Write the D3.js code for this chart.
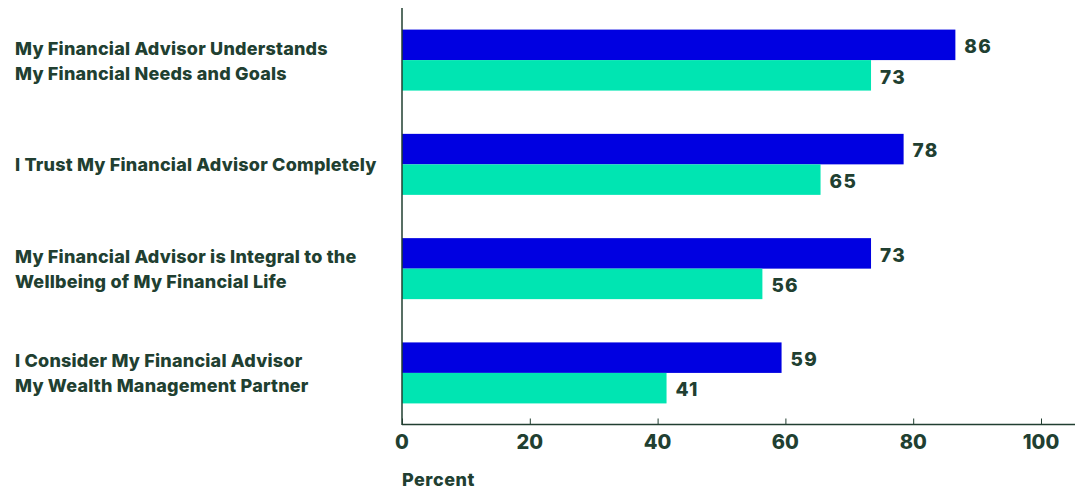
<!DOCTYPE html>
<html><head><meta charset="utf-8">
<script src="https://cdn.jsdelivr.net/npm/d3@7"></script>
<style>
body{margin:0;background:#fff;}
text{font-family:Inter, "Liberation Sans", sans-serif;font-weight:700;fill:#213f31;}
</style></head>
<body><svg id="c" width="1080" height="491"></svg>
<script>
const categories = [
  ["My Financial Advisor Understands","My Financial Needs and Goals"],
  ["I Trust My Financial Advisor Completely"],
  ["My Financial Advisor is Integral to the","Wellbeing of My Financial Life"],
  ["I Consider My Financial Advisor","My Wealth Management Partner"]
];
const seriesA = [86.6, 78.5, 73.4, 59.4];
const seriesB = [73.4, 65.5, 56.4, 41.4];
const tickValues = [0, 20, 40, 60, 80, 100];
const axisTitle = "Percent";
const colors = ["#0000e1", "#00e5b2"];

const svg = d3.select("#c");
const x = d3.scaleLinear().domain([0,100]).range([402,1041]);
const y = d3.scaleBand().domain(d3.range(categories.length)).range([8,425]).paddingInner(0.415).paddingOuter(0.207);
const sub = d3.scaleBand().domain([0,1]).range([0,y.bandwidth()]);
const ink = "#213f31";

const g = svg.append("g");
const data = categories.map((c,i)=>({i, vals:[seriesA[i], seriesB[i]]}));
const grp = g.selectAll("g.grp").data(data).join("g").attr("transform",d=>`translate(0,${y(d.i)})`);
grp.selectAll("rect").data(d=>d.vals.map((v,k)=>({v,k}))).join("rect")
  .attr("x",x(0)).attr("y",d=>sub(d.k)).attr("width",d=>x(d.v)-x(0)).attr("height",sub.bandwidth())
  .attr("fill",d=>colors[d.k]);
grp.selectAll("text.val").data(d=>d.vals.map((v,k)=>({v,k}))).join("text")
  .attr("class","val").attr("x",d=>x(d.v)+9).attr("y",d=>sub(d.k)+sub.bandwidth()/2+1.5)
  .attr("dy","0.36em").style("font-size","19px").style("font-weight","800").style("letter-spacing","1.3px")
  .text(d=>Math.floor(d.v));

// category labels
categories.forEach((lines,i)=>{
  const cy = y(i)+y.bandwidth()/2;
  const t = svg.append("text").attr("x",15).style("font-size","18px").style("font-weight","800").style("letter-spacing","0.2px");
  lines.forEach((l,j)=>{
    t.append("tspan").attr("x",15).attr("y",cy+(j-(lines.length-1)/2)*25+0.5).attr("dy","0.36em").text(l);
  });
});

// axes
svg.append("line").attr("x1",x(0)).attr("x2",x(0)).attr("y1",8).attr("y2",425).attr("stroke",ink).attr("stroke-width",1.5);
const xa = svg.append("g").attr("transform","translate(0,424.5)")
  .call(d3.axisTop(x).tickValues(tickValues).tickSize(6).tickFormat(""));
xa.select(".domain").remove();
xa.selectAll("line").attr("stroke",ink);
svg.append("line").attr("x1",x(0)).attr("x2",1075).attr("y1",424.5).attr("y2",424.5).attr("stroke",ink).attr("stroke-width",1.5);
svg.append("g").selectAll("text").data(tickValues).join("text")
  .attr("x",d=>x(d)).attr("y",442).attr("dy","0.36em").attr("text-anchor","middle")
  .style("font-size","20px").style("font-weight","800").text(d=>d);
svg.append("text").attr("x",402).attr("y",480).attr("dy","0.36em").style("font-size","18px").style("font-weight","800").style("letter-spacing","0.5px").text(axisTitle);
</script></body></html>
